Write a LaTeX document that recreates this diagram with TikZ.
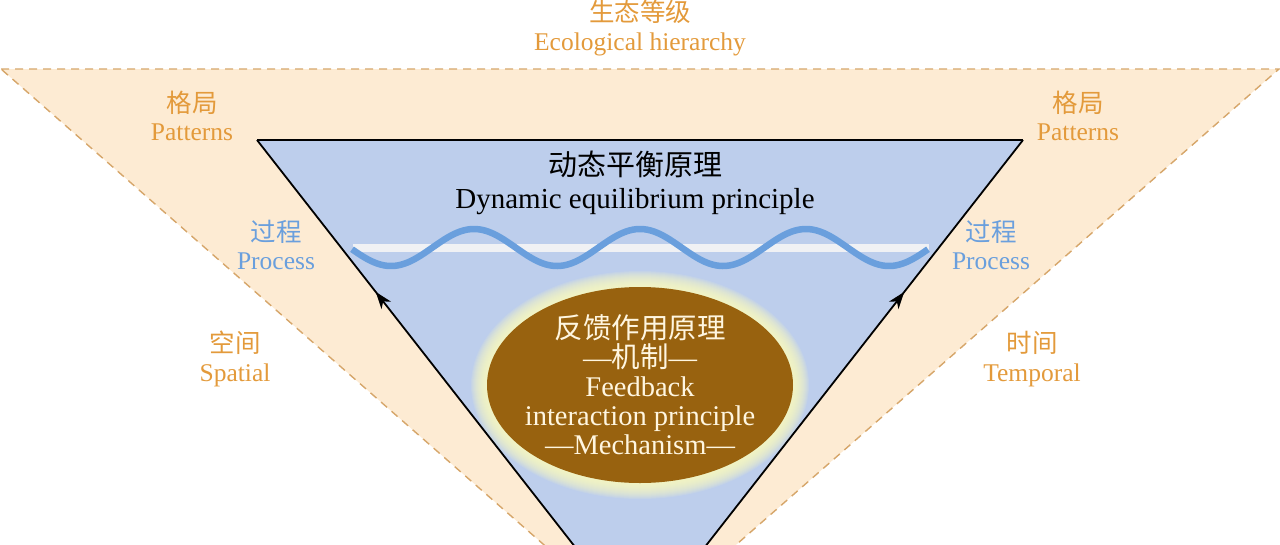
\documentclass[tikz,border=0pt]{standalone}
\usepackage{fontspec}
\setmainfont{Liberation Serif}
\newfontfamily\cjk{Noto Sans CJK SC}
\usetikzlibrary{shapes.geometric,arrows.meta,decorations.markings}
\definecolor{peach}{HTML}{FDEBD3}
\definecolor{tanline}{HTML}{D6A66A}
\definecolor{lbl}{HTML}{E39A3B}
\definecolor{inblue}{HTML}{BDCEEC}
\definecolor{wavec}{HTML}{6A9FDD}
\definecolor{stripe}{HTML}{F0F1F4}
\definecolor{brownc}{HTML}{98620F}
\definecolor{cream}{HTML}{FFF6E0}
\definecolor{glowc}{HTML}{FFFFC0}
\tikzset{
  lab/.style={font=\fontsize{25.5}{28.5}\selectfont, text=lbl, align=center, inner sep=0pt},
  proc/.style={lab, text=wavec},
  title/.style={font=\fontsize{29}{33}\selectfont, text=black, align=center, inner sep=0pt},
  fbtext/.style={font=\fontsize{28.5}{29}\selectfont, text=cream, align=center, inner sep=0pt},
  edge/.style={black, line width=1.8pt},
  midarrow/.style={postaction={decorate, decoration={markings,
      mark=at position 0.69 with {\arrow{Stealth[length=17pt,width=12pt,inset=5pt]}}}}},
  outline/.style={tanline, line width=1.4pt, dash pattern=on 8pt off 6pt},
}
\begin{document}
\begin{tikzpicture}[x=1pt,y=-1pt]
\useasboundingbox (0,0) rectangle (1280,544);
% outer triangle
\coordinate (OL) at (1,69);
\coordinate (OR) at (1279,69);
\coordinate (OA) at (640,629);
\fill[peach] (OL) -- (OR) -- (OA) -- cycle;
\draw[outline] (OL) -- (OR) -- (OA) -- cycle;
% inner triangle
\coordinate (IL) at (257,140);
\coordinate (IR) at (1023,140);
\coordinate (IA) at (640,630);
\fill[inblue] (IL) -- (IR) -- (IA) -- cycle;
% stripe and wave
\fill[stripe] (353,244) rectangle (929,252);
\draw[wavec, line width=6.5pt] plot[domain=352:928, samples=200, smooth]
  (\x, {247.5 - 18.5*cos(2.16867*(\x-640))});
% glow and ellipse
\coordinate (fbc) at (640,385);
\foreach \i in {1,...,16}
  \fill[glowc, opacity=0.11] (fbc) ellipse [x radius={153+17-\i}, y radius={98+17-\i}];
\node[ellipse, fill=brownc, minimum width=306pt, minimum height=196pt, inner sep=0pt] (fb) at (fbc) {};
\node[fbtext] (fbt) at (fb.center) {{\cjk 反馈作用原理}\\—{\cjk 机制}—\\Feedback\\interaction principle\\—Mechanism—};
% triangle edges
\draw[edge] (IL) -- (IR);
\draw[edge, midarrow] (IA) -- (IL);
\draw[edge, midarrow] (IA) -- (IR);
% labels
\node[lab] (eco) at (640,28) {{\cjk 生态等级}\\Ecological hierarchy};
\node[lab] (patL) at (192,116) {{\cjk 格局}\\Patterns};
\node[lab] (patR) at (1078,116) {{\cjk 格局}\\Patterns};
\node[proc] (procL) at (276,245) {{\cjk 过程}\\Process};
\node[proc] (procR) at (991,245) {{\cjk 过程}\\Process};
\node[lab] (spa) at (235,359) {{\cjk 空间}\\Spatial};
\node[lab] (tem) at (1032,359) {{\cjk 时间}\\Temporal};
\node[title] (dyn) at (635,183) {{\cjk 动态平衡原理}\\Dynamic equilibrium principle};
\end{tikzpicture}
\end{document}
